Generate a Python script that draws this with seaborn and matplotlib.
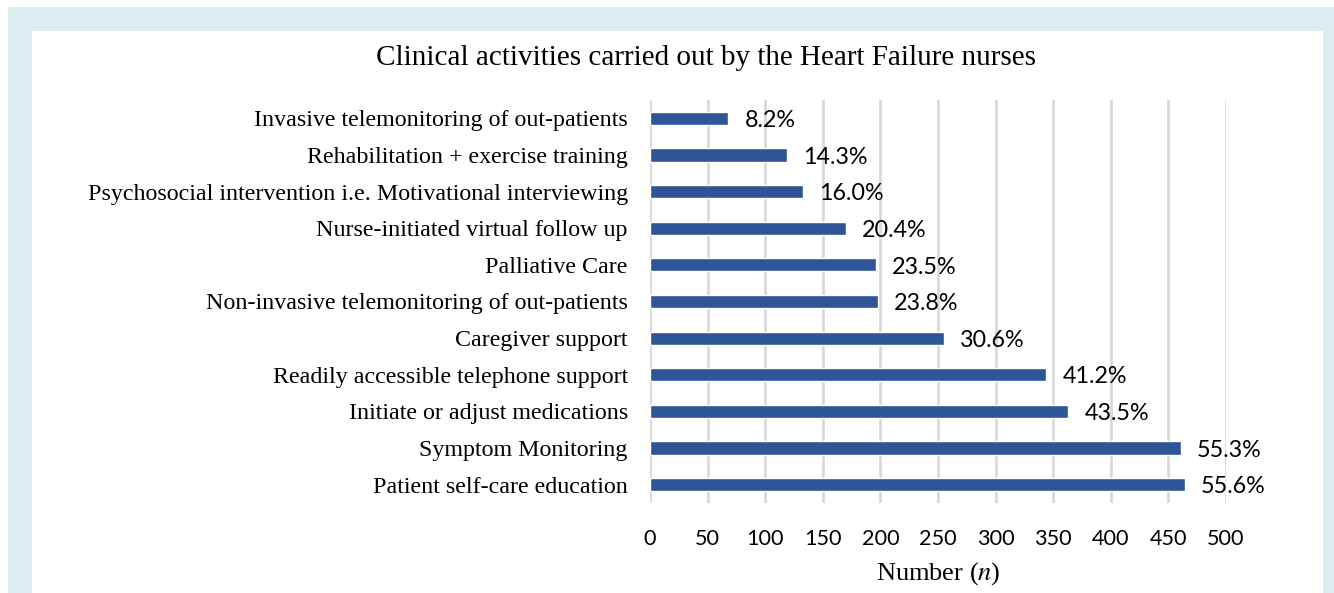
import matplotlib
matplotlib.use("Agg")
import matplotlib.pyplot as plt
import seaborn as sns
import pandas as pd
from matplotlib.patches import Rectangle

# Data
activities = [
    "Invasive telemonitoring of out-patients",
    "Rehabilitation + exercise training",
    "Psychosocial intervention i.e. Motivational interviewing",
    "Nurse-initiated virtual follow up",
    "Palliative Care",
    "Non-invasive telemonitoring of out-patients",
    "Caregiver support",
    "Readily accessible telephone support",
    "Initiate or adjust medications",
    "Symptom Monitoring",
    "Patient self-care education",
]
counts = [68, 119, 133, 170, 196, 198, 255, 344, 363, 461, 464]
percent_labels = ["8.2%", "14.3%", "16.0%", "20.4%", "23.5%", "23.8%",
                  "30.6%", "41.2%", "43.5%", "55.3%", "55.6%"]
x_ticks = [0, 50, 100, 150, 200, 250, 300, 350, 400, 450, 500]

df = pd.DataFrame({"activity": activities, "n": counts})

sns.set_style("white")
plt.rcParams["font.family"] = ["Liberation Serif", "DejaVu Serif"]
plt.rcParams["mathtext.fontset"] = "stix"
plt.rcParams["text.color"] = "black"
plt.rcParams["axes.labelcolor"] = "black"
plt.rcParams["xtick.color"] = "black"
plt.rcParams["ytick.color"] = "black"

W, H = 1334, 593
fig = plt.figure(figsize=(W / 100, H / 100), dpi=100)
fig.patch.set_facecolor("white")

# light blue frame and white panel
fig.patches.append(Rectangle((8 / W, 0), 1 - 8 / W, 1 - 7 / H, transform=fig.transFigure,
                             facecolor="#ddeef3", edgecolor="none", zorder=-2))
fig.patches.append(Rectangle((32 / W, 0), (1323 - 32) / W, 1 - 31 / H, transform=fig.transFigure,
                             facecolor="white", edgecolor="none", zorder=-1))

ax = fig.add_axes([650 / W, 1 - 503 / H, (1226 - 650) / W, (503 - 100) / H])
ax.set_facecolor("none")

sns.barplot(data=df, x="n", y="activity", orient="h", color="#2f5597",
            width=0.36, saturation=1, ax=ax, zorder=3)

ax.set_xlim(0, 500)
ax.set_ylim(len(activities) - 0.5, -0.5)
ax.set_xticks(x_ticks)
ax.xaxis.grid(True, color="#d9d9d9", linewidth=2)
ax.set_axisbelow(True)
for s in ax.spines.values():
    s.set_visible(False)
ax.tick_params(axis="both", length=0)
ax.tick_params(axis="x", pad=19)
ax.tick_params(axis="y", pad=16, labelsize=17.3)
for lab in ax.get_xticklabels():
    lab.set_fontfamily("Lato")
    lab.set_fontsize(15.6)

for i, (v, t) in enumerate(zip(counts, percent_labels)):
    ax.text(v + 14, i + 0.06, t, va="center", ha="left", fontsize=16.8,
            fontfamily="Lato", clip_on=False)

ax.set_xlabel(r"Number ($n$)", fontsize=19, labelpad=8)
ax.set_ylabel("")

fig.text(706 / W, 1 - 58 / H, "Clinical activities carried out by the Heart Failure nurses",
         ha="center", va="center", fontsize=21)

fig.savefig("out.png", dpi=100)
